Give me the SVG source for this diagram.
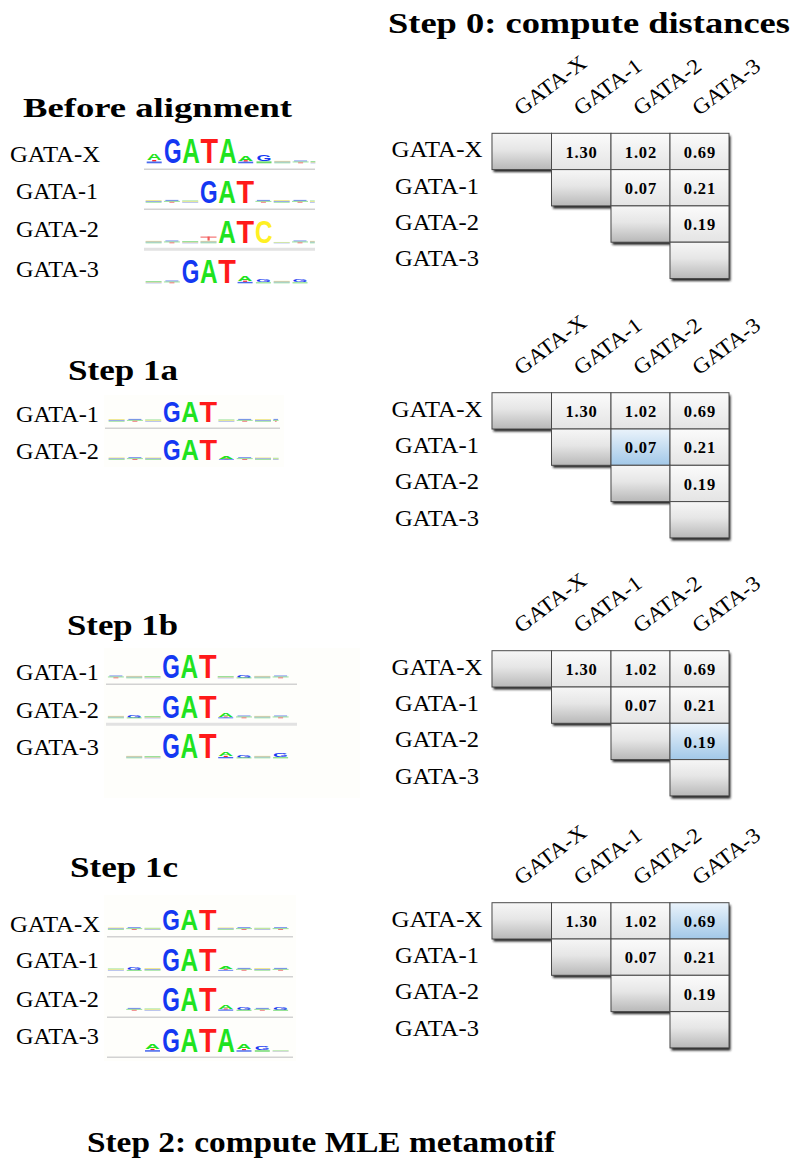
<svg xmlns="http://www.w3.org/2000/svg" width="792" height="1162" viewBox="0 0 792 1162">
  <style>
    .h { font-family: "Liberation Serif", "Times New Roman", serif; font-weight: bold; font-size: 30px; fill: #000; }
    .lab { font-family: "Liberation Serif", "Times New Roman", serif; font-size: 22.5px; fill: #000; }
    .hdr { font-family: "Liberation Serif", "Times New Roman", serif; font-size: 21.5px; fill: #000; }
    .num { font-family: "Liberation Serif", "Times New Roman", serif; font-weight: bold; font-size: 16.5px; letter-spacing: 0.8px; fill: #000; text-anchor: middle; }
    .L { font-family: "Liberation Sans", Arial, sans-serif; font-weight: bold; font-size: 23px; }
    .s { font-family: "Liberation Sans", Arial, sans-serif; font-weight: bold; font-size: 5.6px; }
    .g { fill: #1438f2; }
    .a { fill: #1fe31f; }
    .t { fill: #ff1a1a; }
    .c { fill: #fff023; }
    .ul { stroke: #d2d2d2; stroke-width: 1.5; }
    .ulb { stroke: #e2e2e2; stroke-width: 3; }
    .diag { fill: url(#gDiag); stroke: #4a4a4a; stroke-width: 1; }
    .val { fill: url(#gVal); stroke: #4a4a4a; stroke-width: 1; }
    .hi { fill: url(#gHi); stroke: #4a4a4a; stroke-width: 1; }
    .shadow { fill: #222; filter: url(#blur); }
    .bg { fill: #fefefb; }
  </style>
  <defs>
    <linearGradient id="gDiag" x1="0" y1="0" x2="0" y2="1">
      <stop offset="0" stop-color="#f6f6f6"/>
      <stop offset="0.45" stop-color="#e6e6e6"/>
      <stop offset="1" stop-color="#b8b8b8"/>
    </linearGradient>
    <linearGradient id="gVal" x1="0" y1="0" x2="0" y2="1">
      <stop offset="0" stop-color="#fbfbfb"/>
      <stop offset="1" stop-color="#e4e4e4"/>
    </linearGradient>
    <linearGradient id="gHi" x1="0" y1="0" x2="0" y2="1">
      <stop offset="0" stop-color="#eaf3fb"/>
      <stop offset="1" stop-color="#a2c8e8"/>
    </linearGradient>
    <filter id="blur" x="-10%" y="-10%" width="120%" height="120%">
      <feGaussianBlur stdDeviation="1.2"/>
    </filter>
    <!-- low-information logo columns: thin coloured smears on the baseline -->
    <g id="sm1">
      <rect x="0.5" y="-2.4" width="16" height="0.8" fill="#e9df6a"/>
      <rect x="0.5" y="-1.6" width="16" height="0.8" fill="#7f93ee"/>
      <rect x="0.5" y="-0.8" width="16" height="0.8" fill="#93df93"/>
    </g>
    <g id="sm2">
      <rect x="2" y="-2.8" width="13" height="1" fill="#6b84ee"/>
      <rect x="0.5" y="-1.8" width="16" height="0.9" fill="#8ede8e"/>
      <rect x="6" y="-0.9" width="5" height="0.9" fill="#ee6b6b"/>
    </g>
    <g id="sm3">
      <rect x="0.5" y="-2.2" width="16" height="0.9" fill="#8fde8f"/>
      <rect x="0.5" y="-1.3" width="16" height="0.7" fill="#eee27a"/>
      <rect x="0.5" y="-0.6" width="16" height="0.6" fill="#8fa2ee"/>
    </g>
    <!-- small stacked columns -->
    <g id="bA">
      <text class="s a" x="1" y="-2" textLength="15" lengthAdjust="spacingAndGlyphs">A</text>
      <rect x="6.5" y="-2.2" width="4" height="1" fill="#f22"/>
      <rect x="1" y="-1.2" width="15" height="1.2" fill="#4a6aee"/>
    </g>
    <g id="bG">
      <text class="s g" x="1" y="-1.3" textLength="15" lengthAdjust="spacingAndGlyphs">G</text>
      <rect x="1" y="-1.3" width="15" height="1.3" fill="#6ad86a"/>
    </g>
  </defs>

  <rect width="792" height="1162" fill="#ffffff"/>

  <!-- headings -->
  <g id="titles">
    <text class="h" x="388" y="33" textLength="402" lengthAdjust="spacingAndGlyphs">Step 0: compute distances</text>
    <text class="h" x="23" y="116.7" style="font-size:28px" textLength="269" lengthAdjust="spacingAndGlyphs">Before alignment</text>
    <text class="h" x="68" y="380" textLength="110" lengthAdjust="spacingAndGlyphs">Step 1a</text>
    <text class="h" x="67" y="635" textLength="111" lengthAdjust="spacingAndGlyphs">Step 1b</text>
    <text class="h" x="70" y="876.7" textLength="108" lengthAdjust="spacingAndGlyphs">Step 1c</text>
    <text class="h" x="87" y="1152" textLength="468" lengthAdjust="spacingAndGlyphs">Step 2: compute MLE metamotif</text>
  </g>

  <!-- ===== Before alignment: four motif logos ===== -->
  <g id="logos-before">
    <text class="lab" x="10" y="161.7" textLength="90" lengthAdjust="spacingAndGlyphs">GATA-X</text>
    <text class="lab" x="16" y="199.3" textLength="82" lengthAdjust="spacingAndGlyphs">GATA-1</text>
    <text class="lab" x="16" y="236.7" textLength="83" lengthAdjust="spacingAndGlyphs">GATA-2</text>
    <text class="lab" x="16" y="276.7" textLength="83" lengthAdjust="spacingAndGlyphs">GATA-3</text>

    <g id="logo-before-x">
      <use href="#bA" transform="translate(145.7,163.3) scale(1,1.5)"/>
      <text class="L g" transform="translate(164,163.3) scale(1,1.518)" textLength="17.6" lengthAdjust="spacingAndGlyphs">G</text>
      <text class="L a" transform="translate(182.3,163.3) scale(1,1.518)" textLength="17.6" lengthAdjust="spacingAndGlyphs">A</text>
      <text class="L t" transform="translate(200.6,163.3) scale(1,1.518)" textLength="17.6" lengthAdjust="spacingAndGlyphs">T</text>
      <text class="L a" transform="translate(218.9,163.3) scale(1,1.518)" textLength="17.6" lengthAdjust="spacingAndGlyphs">A</text>
      <use href="#bA" transform="translate(237.2,163.3) scale(1,1.4)"/>
      <use href="#bG" transform="translate(255.5,163.3) scale(1,1.5)"/>
      <use href="#sm1" transform="translate(273.8,163.3)"/>
      <use href="#sm2" transform="translate(292.1,163.3)"/>
      <use href="#sm3" transform="translate(310.4,163.3) scale(0.3,1)"/>
      <line class="ul" x1="144" y1="169.3" x2="315" y2="169.3"/>
    </g>
    <g id="logo-before-1">
      <use href="#sm1" transform="translate(145.1,202.7)"/>
      <use href="#sm2" transform="translate(163.4,202.7)"/>
      <use href="#sm3" transform="translate(181.7,202.7)"/>
      <text class="L g" transform="translate(200,202.7) scale(1,1.378)" textLength="17.6" lengthAdjust="spacingAndGlyphs">G</text>
      <text class="L a" transform="translate(218.3,202.7) scale(1,1.378)" textLength="17.6" lengthAdjust="spacingAndGlyphs">A</text>
      <text class="L t" transform="translate(236.6,202.7) scale(1,1.378)" textLength="17.6" lengthAdjust="spacingAndGlyphs">T</text>
      <use href="#sm2" transform="translate(254.9,202.7)"/>
      <use href="#sm1" transform="translate(273.2,202.7)"/>
      <use href="#sm2" transform="translate(291.5,202.7)"/>
      <use href="#sm3" transform="translate(309.8,202.7) scale(0.3,1)"/>
      <line class="ul" x1="144" y1="209.3" x2="315" y2="209.3"/>
    </g>
    <g id="logo-before-2">
      <use href="#sm1" transform="translate(145.1,243.3)"/>
      <use href="#sm2" transform="translate(163.4,243.3)"/>
      <use href="#sm3" transform="translate(181.7,243.3)"/>
      <rect x="200.5" y="236.6" width="16" height="1" fill="#f25a5a"/>
      <rect x="207.5" y="236.6" width="2.2" height="4" fill="#f25a5a"/>
      <use href="#sm1" transform="translate(200,243.3)"/>
      <text class="L a" transform="translate(218.3,243.3) scale(1,1.372)" textLength="17.6" lengthAdjust="spacingAndGlyphs">A</text>
      <text class="L t" transform="translate(236.6,243.3) scale(1,1.372)" textLength="17.6" lengthAdjust="spacingAndGlyphs">T</text>
      <text class="L c" transform="translate(254.9,243.3) scale(1,1.372)" textLength="17.6" lengthAdjust="spacingAndGlyphs">C</text>
      <use href="#sm3" transform="translate(273.2,243.3) scale(1,0.6)"/>
      <use href="#sm2" transform="translate(291.5,243.3)"/>
      <use href="#sm1" transform="translate(309.8,243.3) scale(0.3,1)"/>
      <line class="ulb" x1="144" y1="249.3" x2="315" y2="249.3"/>
    </g>
    <g id="logo-before-3">
      <use href="#sm3" transform="translate(145.1,283.3)"/>
      <use href="#sm2" transform="translate(163.4,283.3)"/>
      <text class="L g" transform="translate(181.7,283.3) scale(1,1.415)" textLength="17.6" lengthAdjust="spacingAndGlyphs">G</text>
      <text class="L a" transform="translate(200,283.3) scale(1,1.415)" textLength="17.6" lengthAdjust="spacingAndGlyphs">A</text>
      <text class="L t" transform="translate(218.3,283.3) scale(1,1.415)" textLength="17.6" lengthAdjust="spacingAndGlyphs">T</text>
      <use href="#bA" transform="translate(236.6,283.3) scale(1,1.2)"/>
      <use href="#bG" transform="translate(254.9,283.3) scale(1,0.7)"/>
      <use href="#sm1" transform="translate(273.2,283.3)"/>
      <use href="#bG" transform="translate(291.5,283.3) scale(1,0.7)"/>
    </g>
  </g>

  <!-- ===== Step 1a ===== -->
  <g id="logos-1a">
    <rect class="bg" x="104" y="395" width="180" height="72"/>
    <text class="lab" x="16" y="421.7" textLength="83" lengthAdjust="spacingAndGlyphs">GATA-1</text>
    <text class="lab" x="16" y="459.3" textLength="83" lengthAdjust="spacingAndGlyphs">GATA-2</text>
    <g id="logo-1a-1">
      <use href="#sm1" transform="translate(108.1,421.7)"/>
      <use href="#sm2" transform="translate(126.4,421.7)"/>
      <use href="#sm3" transform="translate(144.7,421.7)"/>
      <text class="L g" transform="translate(163,421.7) scale(1,1.318)" textLength="17.6" lengthAdjust="spacingAndGlyphs">G</text>
      <text class="L a" transform="translate(181.3,421.7) scale(1,1.318)" textLength="17.6" lengthAdjust="spacingAndGlyphs">A</text>
      <text class="L t" transform="translate(199.6,421.7) scale(1,1.318)" textLength="17.6" lengthAdjust="spacingAndGlyphs">T</text>
      <use href="#sm3" transform="translate(217.9,421.7)"/>
      <use href="#sm2" transform="translate(236.2,421.7)"/>
      <use href="#sm1" transform="translate(254.5,421.7)"/>
      <use href="#sm2" transform="translate(272.8,421.7) scale(0.35,1)"/>
      <line class="ul" x1="105" y1="428.3" x2="280" y2="428.3"/>
    </g>
    <g id="logo-1a-2">
      <use href="#sm1" transform="translate(108.1,460)"/>
      <use href="#sm2" transform="translate(126.4,460)"/>
      <use href="#sm1" transform="translate(144.7,460)"/>
      <text class="L g" transform="translate(163,460) scale(1,1.318)" textLength="17.6" lengthAdjust="spacingAndGlyphs">G</text>
      <text class="L a" transform="translate(181.3,460) scale(1,1.318)" textLength="17.6" lengthAdjust="spacingAndGlyphs">A</text>
      <text class="L t" transform="translate(199.6,460) scale(1,1.318)" textLength="17.6" lengthAdjust="spacingAndGlyphs">T</text>
      <use href="#bA" transform="translate(217.9,460) scale(1,0.6)"/>
      <use href="#sm2" transform="translate(236.2,460)"/>
      <use href="#sm1" transform="translate(254.5,460)"/>
      <use href="#sm3" transform="translate(272.8,460) scale(0.35,1)"/>
    </g>
  </g>

  <!-- ===== Step 1b ===== -->
  <g id="logos-1b">
    <rect class="bg" x="104" y="648" width="256" height="150"/>
    <text class="lab" x="16" y="680" textLength="83" lengthAdjust="spacingAndGlyphs">GATA-1</text>
    <text class="lab" x="16" y="718.3" textLength="83" lengthAdjust="spacingAndGlyphs">GATA-2</text>
    <text class="lab" x="16" y="755" textLength="83" lengthAdjust="spacingAndGlyphs">GATA-3</text>
    <g id="logo-1b-1">
      <use href="#sm2" transform="translate(107.4,678.3)"/>
      <use href="#sm1" transform="translate(125.7,678.3)"/>
      <use href="#sm3" transform="translate(144,678.3)"/>
      <text class="L g" transform="translate(162.3,678.3) scale(1,1.415)" textLength="17.6" lengthAdjust="spacingAndGlyphs">G</text>
      <text class="L a" transform="translate(180.6,678.3) scale(1,1.415)" textLength="17.6" lengthAdjust="spacingAndGlyphs">A</text>
      <text class="L t" transform="translate(198.9,678.3) scale(1,1.415)" textLength="17.6" lengthAdjust="spacingAndGlyphs">T</text>
      <use href="#sm3" transform="translate(217.2,678.3)"/>
      <use href="#bG" transform="translate(235.5,678.3) scale(1,0.6)"/>
      <use href="#sm1" transform="translate(253.8,678.3)"/>
      <use href="#sm2" transform="translate(272.1,678.3)"/>
      <line class="ul" x1="106" y1="684.3" x2="297" y2="684.3"/>
    </g>
    <g id="logo-1b-2">
      <use href="#sm1" transform="translate(107.4,718.3)"/>
      <use href="#bG" transform="translate(125.7,718.3) scale(1,0.6)"/>
      <use href="#sm3" transform="translate(144,718.3)"/>
      <text class="L g" transform="translate(162.3,718.3) scale(1,1.354)" textLength="17.6" lengthAdjust="spacingAndGlyphs">G</text>
      <text class="L a" transform="translate(180.6,718.3) scale(1,1.354)" textLength="17.6" lengthAdjust="spacingAndGlyphs">A</text>
      <text class="L t" transform="translate(198.9,718.3) scale(1,1.354)" textLength="17.6" lengthAdjust="spacingAndGlyphs">T</text>
      <use href="#bA" transform="translate(217.2,718.3) scale(1,0.8)"/>
      <use href="#sm2" transform="translate(235.5,718.3)"/>
      <use href="#sm1" transform="translate(253.8,718.3)"/>
      <use href="#sm2" transform="translate(272.1,718.3)"/>
      <line class="ulb" x1="106" y1="724.3" x2="297" y2="724.3"/>
    </g>
    <g id="logo-1b-3">
      <use href="#sm1" transform="translate(125.7,758.3)"/>
      <use href="#sm3" transform="translate(144,758.3)"/>
      <text class="L g" transform="translate(162.3,758.3) scale(1,1.518)" textLength="17.6" lengthAdjust="spacingAndGlyphs">G</text>
      <text class="L a" transform="translate(180.6,758.3) scale(1,1.518)" textLength="17.6" lengthAdjust="spacingAndGlyphs">A</text>
      <text class="L t" transform="translate(198.9,758.3) scale(1,1.518)" textLength="17.6" lengthAdjust="spacingAndGlyphs">T</text>
      <use href="#bA" transform="translate(217.2,758.3) scale(1,1.1)"/>
      <use href="#bG" transform="translate(235.5,758.3) scale(1,0.6)"/>
      <use href="#sm1" transform="translate(253.8,758.3)"/>
      <use href="#bG" transform="translate(272.1,758.3) scale(1,0.8)"/>
    </g>
  </g>

  <!-- ===== Step 1c ===== -->
  <g id="logos-1c">
    <rect class="bg" x="104" y="895" width="192" height="166"/>
    <text class="lab" x="10" y="931.7" textLength="90" lengthAdjust="spacingAndGlyphs">GATA-X</text>
    <text class="lab" x="16" y="968.3" textLength="83" lengthAdjust="spacingAndGlyphs">GATA-1</text>
    <text class="lab" x="16" y="1006.7" textLength="83" lengthAdjust="spacingAndGlyphs">GATA-2</text>
    <text class="lab" x="16" y="1044" textLength="83" lengthAdjust="spacingAndGlyphs">GATA-3</text>
    <g id="logo-1c-x">
      <use href="#sm1" transform="translate(107.4,930)"/>
      <use href="#sm2" transform="translate(125.7,930)"/>
      <use href="#sm3" transform="translate(144,930)"/>
      <text class="L g" transform="translate(162.3,930) scale(1,1.318)" textLength="17.6" lengthAdjust="spacingAndGlyphs">G</text>
      <text class="L a" transform="translate(180.6,930) scale(1,1.318)" textLength="17.6" lengthAdjust="spacingAndGlyphs">A</text>
      <text class="L t" transform="translate(198.9,930) scale(1,1.318)" textLength="17.6" lengthAdjust="spacingAndGlyphs">T</text>
      <use href="#sm1" transform="translate(217.2,930)"/>
      <use href="#sm2" transform="translate(235.5,930)"/>
      <use href="#sm3" transform="translate(253.8,930)"/>
      <use href="#sm2" transform="translate(272.1,930)"/>
      <line class="ul" x1="107" y1="936.7" x2="293" y2="936.7"/>
    </g>
    <g id="logo-1c-1">
      <use href="#sm3" transform="translate(107.4,970.7)"/>
      <use href="#bG" transform="translate(125.7,970.7) scale(1,0.6)"/>
      <use href="#sm1" transform="translate(144,970.7)"/>
      <text class="L g" transform="translate(162.3,970.7) scale(1,1.354)" textLength="17.6" lengthAdjust="spacingAndGlyphs">G</text>
      <text class="L a" transform="translate(180.6,970.7) scale(1,1.354)" textLength="17.6" lengthAdjust="spacingAndGlyphs">A</text>
      <text class="L t" transform="translate(198.9,970.7) scale(1,1.354)" textLength="17.6" lengthAdjust="spacingAndGlyphs">T</text>
      <use href="#bA" transform="translate(217.2,970.7) scale(1,0.7)"/>
      <use href="#sm2" transform="translate(235.5,970.7)"/>
      <use href="#sm1" transform="translate(253.8,970.7)"/>
      <use href="#sm2" transform="translate(272.1,970.7)"/>
      <line class="ul" x1="107" y1="976.7" x2="293" y2="976.7"/>
    </g>
    <g id="logo-1c-2">
      <use href="#sm2" transform="translate(125.7,1010.7)"/>
      <use href="#sm3" transform="translate(144,1010.7)"/>
      <text class="L g" transform="translate(162.3,1010.7) scale(1,1.457)" textLength="17.6" lengthAdjust="spacingAndGlyphs">G</text>
      <text class="L a" transform="translate(180.6,1010.7) scale(1,1.457)" textLength="17.6" lengthAdjust="spacingAndGlyphs">A</text>
      <text class="L t" transform="translate(198.9,1010.7) scale(1,1.457)" textLength="17.6" lengthAdjust="spacingAndGlyphs">T</text>
      <use href="#bA" transform="translate(217.2,1010.7)"/>
      <use href="#bG" transform="translate(235.5,1010.7) scale(1,0.7)"/>
      <use href="#sm2" transform="translate(253.8,1010.7)"/>
      <use href="#bG" transform="translate(272.1,1010.7) scale(1,0.7)"/>
      <line class="ul" x1="107" y1="1017.3" x2="293" y2="1017.3"/>
    </g>
    <g id="logo-1c-3">
      <use href="#bA" transform="translate(144,1051.7) scale(1,1.3)"/>
      <text class="L g" transform="translate(162.3,1051.7) scale(1,1.415)" textLength="17.6" lengthAdjust="spacingAndGlyphs">G</text>
      <text class="L a" transform="translate(180.6,1051.7) scale(1,1.415)" textLength="17.6" lengthAdjust="spacingAndGlyphs">A</text>
      <text class="L t" transform="translate(198.9,1051.7) scale(1,1.415)" textLength="17.6" lengthAdjust="spacingAndGlyphs">T</text>
      <text class="L a" transform="translate(217.2,1051.7) scale(1,1.415)" textLength="17.6" lengthAdjust="spacingAndGlyphs">A</text>
      <use href="#bA" transform="translate(235.5,1051.7) scale(1,1.2)"/>
      <use href="#bG" transform="translate(253.8,1051.7) scale(1,1.1)"/>
      <use href="#sm3" transform="translate(272.1,1051.7) scale(1,0.6)"/>
      <line class="ul" x1="107" y1="1057.3" x2="293" y2="1057.3"/>
    </g>
  </g>

  <!-- ===== distance matrices (upper triangle) ===== -->
  <g id="matrix-step0" transform="translate(0,133.3)">
    <text class="hdr" transform="translate(521,-17) rotate(-37)" textLength="84" lengthAdjust="spacingAndGlyphs">GATA-X</text>
    <text class="hdr" transform="translate(580.5,-17) rotate(-37)" textLength="79" lengthAdjust="spacingAndGlyphs">GATA-1</text>
    <text class="hdr" transform="translate(640,-17) rotate(-37)" textLength="79" lengthAdjust="spacingAndGlyphs">GATA-2</text>
    <text class="hdr" transform="translate(699,-17) rotate(-37)" textLength="79" lengthAdjust="spacingAndGlyphs">GATA-3</text>
    <text class="lab" x="437" y="24" text-anchor="middle" textLength="91" lengthAdjust="spacingAndGlyphs">GATA-X</text>
    <text class="lab" x="437" y="60.3" text-anchor="middle" textLength="84" lengthAdjust="spacingAndGlyphs">GATA-1</text>
    <text class="lab" x="437" y="96.6" text-anchor="middle" textLength="84" lengthAdjust="spacingAndGlyphs">GATA-2</text>
    <text class="lab" x="437" y="132.9" text-anchor="middle" textLength="84" lengthAdjust="spacingAndGlyphs">GATA-3</text>
    <polygon class="shadow" transform="translate(1.5,2.5)" points="492,0 729,0 729,145.2 670,145.2 670,108.9 611,108.9 611,72.6 551.5,72.6 551.5,36.3 492,36.3"/>
    <rect class="diag" x="492" y="0" width="59.5" height="36.3"/>
    <rect class="val" x="551.5" y="0" width="59.5" height="36.3"/>
    <rect class="val" x="611" y="0" width="59" height="36.3"/>
    <rect class="val" x="670" y="0" width="59" height="36.3"/>
    <rect class="diag" x="551.5" y="36.3" width="59.5" height="36.3"/>
    <rect class="val" x="611" y="36.3" width="59" height="36.3"/>
    <rect class="val" x="670" y="36.3" width="59" height="36.3"/>
    <rect class="diag" x="611" y="72.6" width="59" height="36.3"/>
    <rect class="val" x="670" y="72.6" width="59" height="36.3"/>
    <rect class="diag" x="670" y="108.9" width="59" height="36.3"/>
    <text class="num" x="581.6" y="24.5">1.30</text>
    <text class="num" x="640.9" y="24.5">1.02</text>
    <text class="num" x="699.9" y="24.5">0.69</text>
    <text class="num" x="640.9" y="60.8">0.07</text>
    <text class="num" x="699.9" y="60.8">0.21</text>
    <text class="num" x="699.9" y="97.1">0.19</text>
  </g>

  <g id="matrix-step1a" transform="translate(0,392.7)">
    <text class="hdr" transform="translate(521,-17) rotate(-37)" textLength="84" lengthAdjust="spacingAndGlyphs">GATA-X</text>
    <text class="hdr" transform="translate(580.5,-17) rotate(-37)" textLength="79" lengthAdjust="spacingAndGlyphs">GATA-1</text>
    <text class="hdr" transform="translate(640,-17) rotate(-37)" textLength="79" lengthAdjust="spacingAndGlyphs">GATA-2</text>
    <text class="hdr" transform="translate(699,-17) rotate(-37)" textLength="79" lengthAdjust="spacingAndGlyphs">GATA-3</text>
    <text class="lab" x="437" y="24" text-anchor="middle" textLength="91" lengthAdjust="spacingAndGlyphs">GATA-X</text>
    <text class="lab" x="437" y="60.3" text-anchor="middle" textLength="84" lengthAdjust="spacingAndGlyphs">GATA-1</text>
    <text class="lab" x="437" y="96.6" text-anchor="middle" textLength="84" lengthAdjust="spacingAndGlyphs">GATA-2</text>
    <text class="lab" x="437" y="132.9" text-anchor="middle" textLength="84" lengthAdjust="spacingAndGlyphs">GATA-3</text>
    <polygon class="shadow" transform="translate(1.5,2.5)" points="492,0 729,0 729,145.2 670,145.2 670,108.9 611,108.9 611,72.6 551.5,72.6 551.5,36.3 492,36.3"/>
    <rect class="diag" x="492" y="0" width="59.5" height="36.3"/>
    <rect class="val" x="551.5" y="0" width="59.5" height="36.3"/>
    <rect class="val" x="611" y="0" width="59" height="36.3"/>
    <rect class="val" x="670" y="0" width="59" height="36.3"/>
    <rect class="diag" x="551.5" y="36.3" width="59.5" height="36.3"/>
    <rect class="hi" x="611" y="36.3" width="59" height="36.3"/>
    <rect class="val" x="670" y="36.3" width="59" height="36.3"/>
    <rect class="diag" x="611" y="72.6" width="59" height="36.3"/>
    <rect class="val" x="670" y="72.6" width="59" height="36.3"/>
    <rect class="diag" x="670" y="108.9" width="59" height="36.3"/>
    <text class="num" x="581.6" y="24.5">1.30</text>
    <text class="num" x="640.9" y="24.5">1.02</text>
    <text class="num" x="699.9" y="24.5">0.69</text>
    <text class="num" x="640.9" y="60.8">0.07</text>
    <text class="num" x="699.9" y="60.8">0.21</text>
    <text class="num" x="699.9" y="97.1">0.19</text>
  </g>

  <g id="matrix-step1b" transform="translate(0,650.7)">
    <text class="hdr" transform="translate(521,-17) rotate(-37)" textLength="84" lengthAdjust="spacingAndGlyphs">GATA-X</text>
    <text class="hdr" transform="translate(580.5,-17) rotate(-37)" textLength="79" lengthAdjust="spacingAndGlyphs">GATA-1</text>
    <text class="hdr" transform="translate(640,-17) rotate(-37)" textLength="79" lengthAdjust="spacingAndGlyphs">GATA-2</text>
    <text class="hdr" transform="translate(699,-17) rotate(-37)" textLength="79" lengthAdjust="spacingAndGlyphs">GATA-3</text>
    <text class="lab" x="437" y="24" text-anchor="middle" textLength="91" lengthAdjust="spacingAndGlyphs">GATA-X</text>
    <text class="lab" x="437" y="60.3" text-anchor="middle" textLength="84" lengthAdjust="spacingAndGlyphs">GATA-1</text>
    <text class="lab" x="437" y="96.6" text-anchor="middle" textLength="84" lengthAdjust="spacingAndGlyphs">GATA-2</text>
    <text class="lab" x="437" y="132.9" text-anchor="middle" textLength="84" lengthAdjust="spacingAndGlyphs">GATA-3</text>
    <polygon class="shadow" transform="translate(1.5,2.5)" points="492,0 729,0 729,145.2 670,145.2 670,108.9 611,108.9 611,72.6 551.5,72.6 551.5,36.3 492,36.3"/>
    <rect class="diag" x="492" y="0" width="59.5" height="36.3"/>
    <rect class="val" x="551.5" y="0" width="59.5" height="36.3"/>
    <rect class="val" x="611" y="0" width="59" height="36.3"/>
    <rect class="val" x="670" y="0" width="59" height="36.3"/>
    <rect class="diag" x="551.5" y="36.3" width="59.5" height="36.3"/>
    <rect class="val" x="611" y="36.3" width="59" height="36.3"/>
    <rect class="val" x="670" y="36.3" width="59" height="36.3"/>
    <rect class="diag" x="611" y="72.6" width="59" height="36.3"/>
    <rect class="hi" x="670" y="72.6" width="59" height="36.3"/>
    <rect class="diag" x="670" y="108.9" width="59" height="36.3"/>
    <text class="num" x="581.6" y="24.5">1.30</text>
    <text class="num" x="640.9" y="24.5">1.02</text>
    <text class="num" x="699.9" y="24.5">0.69</text>
    <text class="num" x="640.9" y="60.8">0.07</text>
    <text class="num" x="699.9" y="60.8">0.21</text>
    <text class="num" x="699.9" y="97.1">0.19</text>
  </g>

  <g id="matrix-step1c" transform="translate(0,902.7)">
    <text class="hdr" transform="translate(521,-17) rotate(-37)" textLength="84" lengthAdjust="spacingAndGlyphs">GATA-X</text>
    <text class="hdr" transform="translate(580.5,-17) rotate(-37)" textLength="79" lengthAdjust="spacingAndGlyphs">GATA-1</text>
    <text class="hdr" transform="translate(640,-17) rotate(-37)" textLength="79" lengthAdjust="spacingAndGlyphs">GATA-2</text>
    <text class="hdr" transform="translate(699,-17) rotate(-37)" textLength="79" lengthAdjust="spacingAndGlyphs">GATA-3</text>
    <text class="lab" x="437" y="24" text-anchor="middle" textLength="91" lengthAdjust="spacingAndGlyphs">GATA-X</text>
    <text class="lab" x="437" y="60.3" text-anchor="middle" textLength="84" lengthAdjust="spacingAndGlyphs">GATA-1</text>
    <text class="lab" x="437" y="96.6" text-anchor="middle" textLength="84" lengthAdjust="spacingAndGlyphs">GATA-2</text>
    <text class="lab" x="437" y="132.9" text-anchor="middle" textLength="84" lengthAdjust="spacingAndGlyphs">GATA-3</text>
    <polygon class="shadow" transform="translate(1.5,2.5)" points="492,0 729,0 729,145.2 670,145.2 670,108.9 611,108.9 611,72.6 551.5,72.6 551.5,36.3 492,36.3"/>
    <rect class="diag" x="492" y="0" width="59.5" height="36.3"/>
    <rect class="val" x="551.5" y="0" width="59.5" height="36.3"/>
    <rect class="val" x="611" y="0" width="59" height="36.3"/>
    <rect class="hi" x="670" y="0" width="59" height="36.3"/>
    <rect class="diag" x="551.5" y="36.3" width="59.5" height="36.3"/>
    <rect class="val" x="611" y="36.3" width="59" height="36.3"/>
    <rect class="val" x="670" y="36.3" width="59" height="36.3"/>
    <rect class="diag" x="611" y="72.6" width="59" height="36.3"/>
    <rect class="val" x="670" y="72.6" width="59" height="36.3"/>
    <rect class="diag" x="670" y="108.9" width="59" height="36.3"/>
    <text class="num" x="581.6" y="24.5">1.30</text>
    <text class="num" x="640.9" y="24.5">1.02</text>
    <text class="num" x="699.9" y="24.5">0.69</text>
    <text class="num" x="640.9" y="60.8">0.07</text>
    <text class="num" x="699.9" y="60.8">0.21</text>
    <text class="num" x="699.9" y="97.1">0.19</text>
  </g>
</svg>
